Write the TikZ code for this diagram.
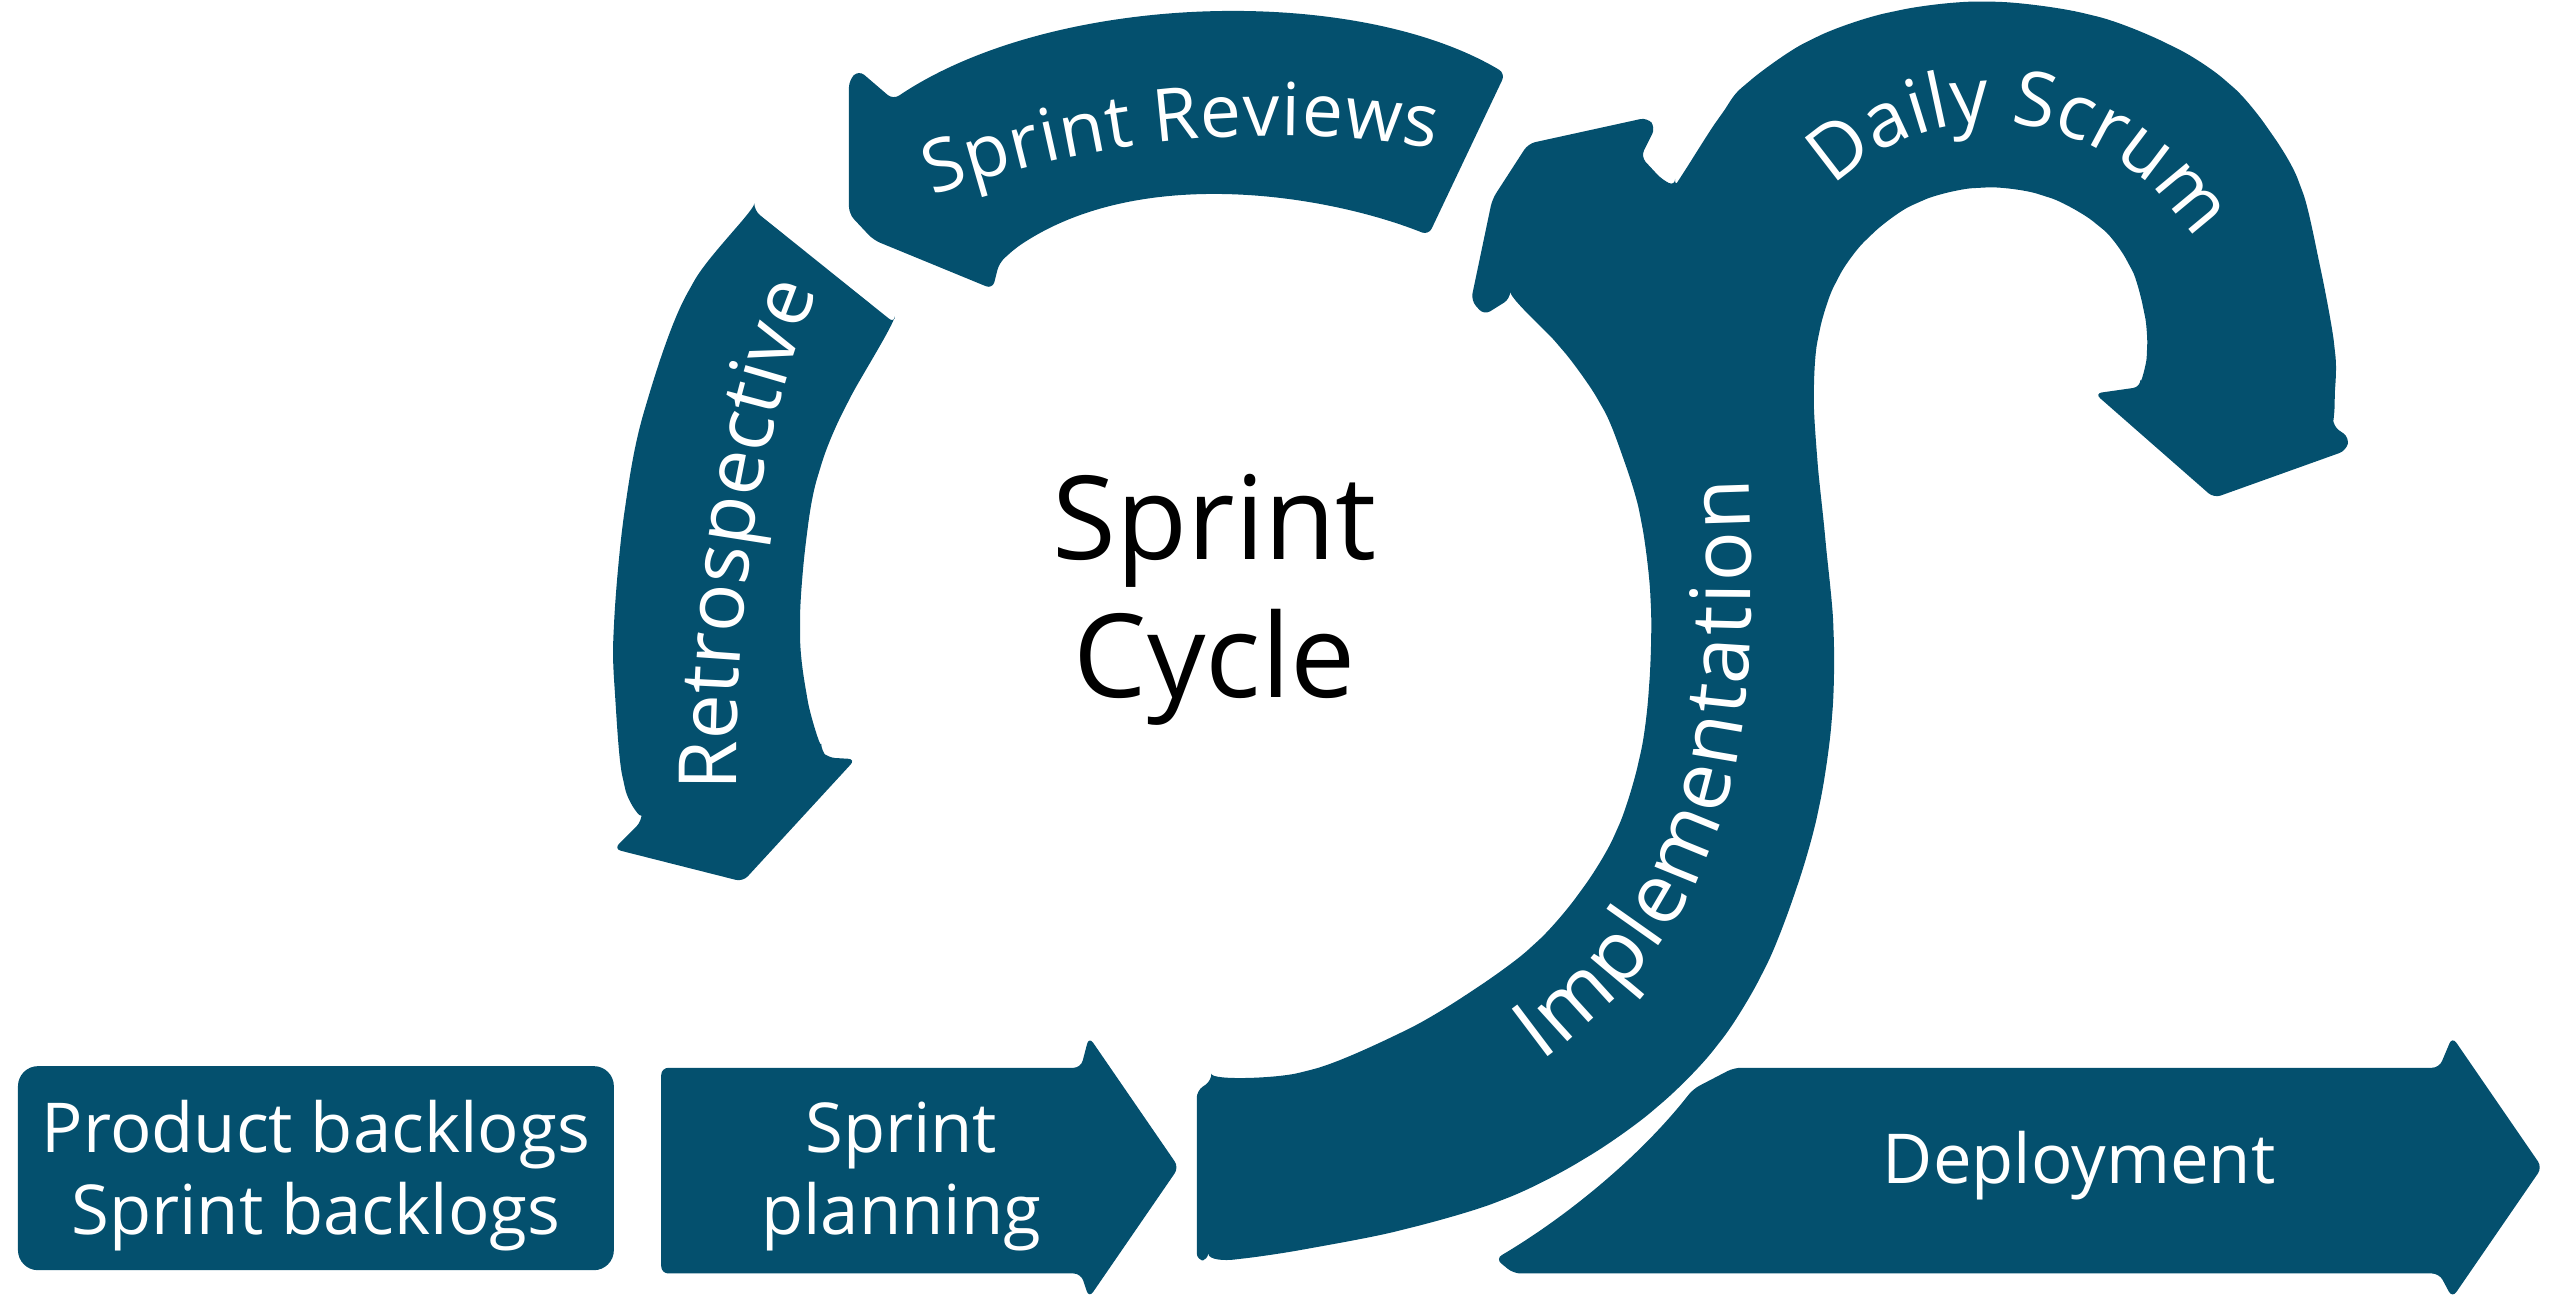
\documentclass[tikz,border=0pt]{standalone}
\usepackage{fontspec}
\setmainfont{Open Sans}
\usetikzlibrary{decorations.text}
\definecolor{scrumblue}{RGB}{4,80,110}

\begin{document}
\begin{tikzpicture}[x=0.02cm, y=-0.02cm]
    % Define styles
    \tikzstyle{band} = [fill=scrumblue, rounded corners=2.5pt]
    \tikzstyle{boxtext} = [text=white, align=center, font=\fontsize{24}{28.45}\selectfont]
    \tikzstyle{cycletext} = [text=black, align=center, font=\fontsize{40.5}{48.1}\selectfont]
    \tikzstyle{bandtext} = [decorate, decoration={text along path, text align={fit to path}}]

    \useasboundingbox (0,0) rectangle (1568,805);

    % Sprint Reviews band
    \fill[band] (547,61) .. controls (645,-5) and (830,-10) .. (922,45)
        -- (875,144) .. controls (815,120) and (700,100) .. (622,152)
        -- (612,161) -- (608,177) -- (535,147) -- (520,131) -- (520,49) -- (526,43) -- cycle;

    % Retrospective band
    \fill[band] (462,129) -- (548,198)
        -- plot[smooth, tension=0.6] coordinates {(548,198) (519,247) (502,288) (494,329) (490,384) (494,425) (503,460)}
        -- (507,464) -- (524,465) -- (455,540) -- (376,520) -- (393,503)
        -- plot[smooth, tension=0.6] coordinates {(393,503) (382,479) (377,430) (376,384) (383,310) (396,247) (423,176) (462,129)}
        -- cycle;

    % Implementation and Daily Scrum band
    \fill[band] (733,668)
        -- plot[smooth, tension=0.55] coordinates {(742,662) (800,656) (857,633) (900,608) (939,579) (968,546) (990,509) (1004,465) (1010,421) (1011,368) (1005,318) (994,280) (980,247) (955,212) (925,183)}
        -- (909,193) -- (901,184) -- (914,122) -- (936,88) -- (1009,72) -- (1014,78) -- (1005,96) -- (1018,110) -- (1026,114)
        -- plot[smooth, tension=0.55] coordinates {(1026,114) (1031,106) (1053,72) (1070,51) (1110,24) (1160,7) (1218,1) (1280,9) (1330,28) (1365,51) (1390,80) (1409,114) (1421,163) (1430,214) (1430,245) (1429,261)}
        -- (1439,268) -- (1437,276) -- (1356,305) -- (1283,241) -- (1311,237)
        -- plot[smooth, tension=0.55] coordinates {(1311,237) (1315,215) (1313,190) (1304,162) (1285,138) (1252,120) (1213,115) (1175,124) (1145,145) (1125,172) (1114,205) (1111,240) (1113,280) (1118,330) (1123,386) (1122,440) (1114,495) (1100,545) (1080,595) (1052,640) (1015,678) (970,710) (920,735) (860,753) (800,765) (760,771) (740,772)}
        -- (733,772) -- cycle;

    % Bottom row
    \fill[band, rounded corners=7pt] (11,653) rectangle (376,778);
    \fill[band] (405,654) -- (662,654) -- (667,635) -- (722,715) -- (667,795) -- (662,780) -- (405,780) -- cycle;
    \fill[band] (1062,654) -- (1494,654) -- (1502,635) -- (1557,715) -- (1502,795) -- (1494,780) -- (927,780) -- (916,771)
        .. controls (960,745) and (1005,708) .. (1037,667) -- cycle;

    % Curved labels
    \path[bandtext, decoration={text={|\fontsize{25.5}{31}\selectfont\color{white}|Sprint Reviews}}]
        (571,120) .. controls (670,85) and (775,74) .. (879,91);
    \path[bandtext, decoration={text={|\fontsize{28}{33}\selectfont\color{white}|Retrospective}}]
        (451,484) .. controls (450,390) and (461,275) .. (500,180);
    \path[bandtext, decoration={text={|\fontsize{26.5}{31}\selectfont\color{white}|Daily Scrum}}]
        (1123,114.5) .. controls (1184,55) and (1279,64.5) .. (1333,131);
    \path[bandtext, decoration={text={|\fontsize{29}{34}\selectfont\color{white}|Implementation}}]
        (944,650) .. controls (1075,555) and (1076,430) .. (1071,293);

    % Place nodes
    \node[cycletext] (cycle) at (744,367.3) {Sprint\\Cycle};
    \node[boxtext] (backlogs) at (193.5,720.1) {Product backlogs\\Sprint backlogs};
    \node[boxtext] (planning) at (552,720.7) {Sprint\\planning};
    \node[boxtext, anchor=base] (deployment) at (1273.5,724.6) {Deployment};

\end{tikzpicture}
\end{document}
